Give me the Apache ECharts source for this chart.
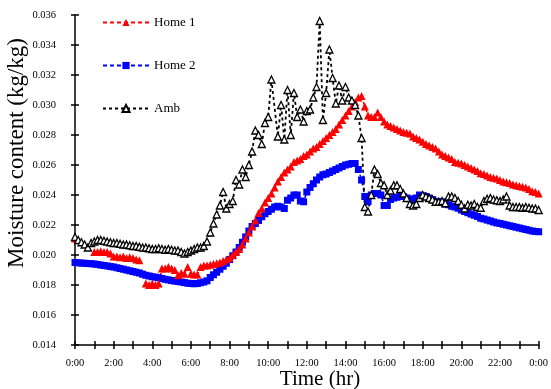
<!DOCTYPE html>
<html>
<head>
<meta charset="utf-8">
<script src="https://cdn.jsdelivr.net/npm/echarts@6/dist/echarts.min.js"></script>
<style>
  html, body { margin: 0; padding: 0; background: #fff; }
  #chart { width: 551px; height: 389px; }
</style>
</head>
<body>
<div id="chart"></div>
<script>
// Moisture content readings, one every 10 minutes from 0:00 to 24:00 (kg/kg)
const home1 = [
  0.0211, 0.021, null, null, null, null,
  0.0202, 0.0202, 0.02025, 0.0202, 0.0202, 0.0201,
  0.0199, 0.0199, 0.01985, 0.0199, 0.0198, 0.01985,
  0.0198, 0.0197, 0.01965, null, 0.0181, 0.018,
  0.0181, 0.018, 0.0181, 0.0191, 0.0191, 0.0192,
  0.0191, 0.019, 0.01865, 0.0188, 0.01875, 0.0192,
  0.01875, 0.0187, 0.0187, 0.0192, 0.0193, 0.0193,
  0.01935, 0.0194, 0.01945, 0.0195, 0.0196, 0.0197,
  0.0198, 0.02, 0.0202, 0.0204, 0.0207, 0.0211,
  0.0215, 0.0219, 0.0223, 0.0228, 0.0231, 0.0235,
  0.0238, 0.0241, 0.0245, 0.0249, 0.0252, 0.0255,
  0.0257, 0.0259, 0.0262, 0.0263, 0.0264, 0.0266,
  0.0267, 0.0269, 0.0271, 0.0272, 0.0274, 0.0276,
  0.0278, 0.028, 0.0282, 0.0284, 0.0287, 0.029,
  0.0293, 0.0296, 0.0299, 0.0302, 0.0305, 0.0306,
  0.0299, 0.0293, 0.0292, 0.0292, 0.0295, 0.0292,
  0.0289, 0.0287, 0.0286, 0.0285, 0.0284, 0.0283,
  0.0282, 0.02815, 0.0281, 0.0279, 0.0278, 0.0277,
  0.02755, 0.0274, 0.0273, 0.0272, 0.0271, 0.0269,
  0.0267, 0.0266, 0.0265, 0.0264, 0.0262, 0.02615,
  0.0261, 0.026, 0.0259, 0.0258, 0.0257, 0.0256,
  0.02545, 0.0254, 0.0253, 0.0252, 0.02515, 0.0251,
  0.025, 0.0249, 0.02485, 0.0248, 0.0247, 0.02465,
  0.0246, 0.02455, 0.0245, 0.0244, 0.02425, 0.0242,
  0.0241
];

const home2 = [
  0.0195, 0.01948, 0.01946, 0.01945, 0.01943, 0.01942,
  0.0194, 0.01937, 0.01933, 0.0193, 0.01927, 0.01923,
  0.0192, 0.01915, 0.0191, 0.01905, 0.019, 0.01895,
  0.0189, 0.01885, 0.0188, 0.01872, 0.01865, 0.0186,
  0.01855, 0.01852, 0.01848, 0.01843, 0.01838, 0.01834,
  0.0183, 0.01826, 0.01823, 0.0182, 0.01816, 0.01812,
  0.0181, 0.01808, 0.0181, 0.01815, 0.0182, 0.01828,
  0.0185, 0.01868, 0.01885, 0.01905, 0.01925, 0.01945,
  0.0197, 0.01995, 0.0202, 0.0205, 0.02085, 0.0212,
  0.0216, 0.0219, 0.0221, 0.0223, 0.02255, 0.02275,
  0.0229, 0.02305, 0.0232, 0.02325, 0.0232, 0.0231,
  0.02365, 0.0238, 0.024, 0.024, 0.0236, 0.02355,
  0.0242, 0.0245, 0.02475, 0.025, 0.0252, 0.02535,
  0.0254, 0.0255, 0.0256, 0.0257, 0.0258, 0.0259,
  0.026, 0.02605, 0.0261, 0.0261, 0.0257, 0.025,
  0.0239, 0.02355, 0.024, 0.0241, 0.0241, 0.024,
  0.0233, 0.0233, 0.0237, 0.0238, 0.02385, 0.0239,
  0.0239, 0.0238, 0.02375, 0.02365, 0.0238, 0.024,
  0.02395, 0.0239, 0.0238, 0.0237, 0.02358, 0.02355,
  0.02355, 0.0234, 0.02335, 0.02325, 0.0232, 0.02312,
  0.023, 0.0229, 0.02282, 0.02273, 0.02265, 0.02257,
  0.02245, 0.0224, 0.02233, 0.02227, 0.0222, 0.02214,
  0.0221, 0.02205, 0.022, 0.02195, 0.0219, 0.02185,
  0.0218, 0.02175, 0.0217, 0.02165, 0.0216, 0.02157,
  0.02155
];

const amb = [
  0.0212, 0.021, 0.02085, 0.0207, 0.0205, 0.0208,
  0.0209, 0.021, 0.021, 0.02095, 0.0209, 0.02085,
  0.0208, 0.0208, 0.02075, 0.0207, 0.0207, 0.02065,
  0.0206, 0.0206, 0.02055, 0.0205, 0.0205, 0.02045,
  0.0204, 0.0204, 0.02045, 0.0204, 0.02035, 0.0204,
  0.02035, 0.0203, 0.0203, 0.0202, 0.0201, 0.0202,
  0.0203, 0.0204, 0.0205, 0.0205, 0.0206, 0.0209,
  0.0215, 0.0221, 0.0227, 0.0233, 0.0242, 0.0231,
  0.0234, 0.0236, 0.025, 0.0247, 0.0257, 0.0252,
  0.026, 0.0269, 0.0283, 0.028, 0.0274, 0.0288,
  0.0292, 0.0317, null, 0.0279, 0.03, 0.0277,
  0.031, 0.028, 0.0308, 0.0292, 0.0297, 0.0289,
  0.0296, 0.0297, 0.0305, 0.0312, 0.0356, 0.029,
  0.0308, 0.0337, 0.0318, 0.0301, 0.0313, 0.0303,
  0.0312, 0.0305, 0.0303, 0.03, 0.0293, 0.0278,
  0.0232, 0.0229, 0.024, 0.0257, 0.0254, 0.0248,
  0.02465, 0.024, 0.0243, 0.02465, 0.02465, 0.0244,
  0.0241, 0.0238, 0.0234, 0.0233, 0.0234, 0.0238,
  0.024, 0.0239, 0.0238, 0.0237, 0.02355, 0.02355,
  0.0236, 0.02345, 0.0239, 0.0239, 0.0238, 0.0236,
  0.02335, 0.0231, 0.02335, 0.0233, 0.0234, 0.0232,
  0.02315, 0.0236, 0.02375, 0.0238, 0.0237, 0.02365,
  0.0236, 0.0237, 0.0239, 0.0233, 0.0232, 0.0232,
  0.0232, 0.02315, 0.0232, 0.02315, 0.0231, 0.0231,
  0.023
];

// Time stamps for each reading (10-minute steps)
const times = [];
for (let i = 0; i < home1.length; i++) {
  const mins = i * 10;
  times.push(Math.floor(mins / 60) + ':' + String(mins % 60).padStart(2, '0'));
}

const seriesNames = ['Home 1', 'Home 2', 'Amb'];
const yMin = 0.014, yMax = 0.036, yStep = 0.002;

const SERIF = '"Liberation Serif", "Times New Roman", serif';

const chart = echarts.init(document.getElementById('chart'));

const baseX = {
  type: 'category',
  data: times,
  boundaryGap: false,
  position: 'bottom'
};
const baseY = {
  type: 'value',
  min: yMin,
  max: yMax,
  interval: yStep,
  position: 'left',
  splitLine: { show: false }
};

chart.setOption({
  animation: false,
  backgroundColor: '#fff',
  grid: { left: 75, right: 11, top: 15, bottom: 44 },
  legend: {
    data: seriesNames,
    orient: 'vertical',
    left: 102,
    top: 16,
    padding: 0,
    itemWidth: 46,
    itemHeight: 9,
    itemGap: 30,
    textStyle: { fontFamily: SERIF, fontSize: 13, color: '#000' }
  },
  xAxis: [
    Object.assign({}, baseX, {
      axisLine: { lineStyle: { color: '#000', width: 1.5 } },
      axisTick: { show: true, interval: 5, length: 4, inside: false, lineStyle: { color: '#000', width: 1.5 } },
      axisLabel: {
        interval: 11,
        margin: 13,
        fontFamily: SERIF,
        fontSize: 10.5,
        color: '#000',
        formatter: (v, idx) => (idx === times.length - 1 ? '0:00' : v)
      }
    }),
    Object.assign({}, baseX, {
      axisLine: { show: false },
      axisTick: { show: true, interval: 5, length: 4, inside: true, lineStyle: { color: '#000', width: 1.5 } },
      axisLabel: { show: false }
    })
  ],
  yAxis: [
    Object.assign({}, baseY, {
      axisLine: { show: true, lineStyle: { color: '#000', width: 1.5 } },
      axisTick: { show: true, length: 4, inside: false, lineStyle: { color: '#000', width: 1.5 } },
      axisLabel: {
        margin: 19,
        fontFamily: SERIF,
        fontSize: 10.5,
        color: '#000',
        formatter: v => v.toFixed(3)
      }
    }),
    Object.assign({}, baseY, {
      axisLine: { show: false },
      axisTick: { show: true, length: 4, inside: true, lineStyle: { color: '#000', width: 1.5 } },
      axisLabel: { show: false }
    })
  ],
  graphic: [
    {
      type: 'text',
      left: 5,
      top: 38,
      rotation: Math.PI / 2,
      style: {
        text: 'Moisture content (kg/kg)',
        font: '23px ' + SERIF,
        fill: '#000'
      }
    },
    {
      type: 'text',
      style: {
        text: 'Time (hr)',
        font: '21px ' + SERIF,
        fill: '#000',
        align: 'center',
        verticalAlign: 'middle'
      },
      x: 320, y: 379
    }
  ],
  series: [
    {
      name: 'Home 2',
      type: 'line',
      data: home2,
      symbol: 'rect',
      symbolSize: 7,
      showAllSymbol: true,
      itemStyle: { color: '#0000ff' },
      lineStyle: { color: '#0000ff', width: 1.5, type: [4, 3] }
    },
    {
      name: 'Home 1',
      type: 'line',
      data: home1,
      symbol: 'triangle',
      symbolSize: 8,
      showAllSymbol: true,
      itemStyle: { color: '#ff0000' },
      lineStyle: { color: '#ff0000', width: 1.5, type: [4, 3] }
    },
    {
      name: 'Amb',
      type: 'line',
      data: amb,
      connectNulls: true,
      symbol: 'triangle',
      symbolSize: 7,
      showAllSymbol: true,
      itemStyle: { color: '#ffffff', borderColor: '#000', borderWidth: 1.3 },
      lineStyle: { color: '#000', width: 1.8, type: [3, 3] }
    }
  ]
});
</script>
</body>
</html>
